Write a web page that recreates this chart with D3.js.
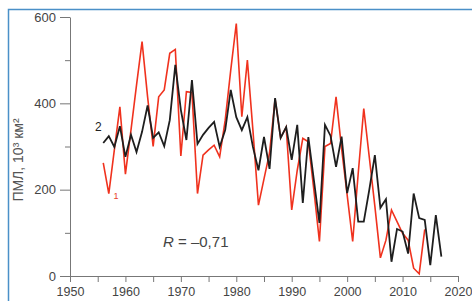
<!DOCTYPE html>
<html>
<head>
<meta charset="utf-8">
<script src="https://cdnjs.cloudflare.com/ajax/libs/d3/7.8.5/d3.min.js"></script>
<style>
  body { margin: 0; background: #fff; }
  .tick text { font-family: "Liberation Sans", Arial, sans-serif; }
</style>
</head>
<body>
<div class="chart"></div>
<script>
// data, 10^3 km^2
var years1 = d3.range(1956, 2015); // series 1 (red) 1956-2014
var values1 = [262, 191, 292, 392, 236, 338, 442, 543, 415, 300,
  415, 431, 516, 525, 278, 427, 425, 191, 280, 292,
  303, 276, 361, 477, 585, 369, 500, 338, 164, 225,
  285, 410, 320, 345, 153, 245, 319, 311, 199, 80,
  300, 307, 415, 295, 188, 80, 238, 388, 275, 162,
  42, 83, 153, 126, 99, 83, 18, 5, 108];

var years2 = d3.range(1956, 2018); // series 2 (black) 1956-2017
var values2 = [308, 324, 299, 347, 276, 327, 287, 334, 395, 320,
  333, 301, 361, 489, 385, 315, 454, 306, 327, 343,
  357, 299, 338, 431, 368, 338, 368, 299, 245, 322,
  248, 412, 320, 345, 269, 350, 169, 322, 222, 123,
  350, 325, 253, 323, 192, 250, 126, 126, 200, 280,
  158, 178, 33, 109, 103, 52, 191, 134, 130, 25,
  141, 45];

var xTicks = [1950, 1960, 1970, 1980, 1990, 2000, 2010, 2020];
var yTicks = [0, 200, 400, 600];

// svg container
var svgWidth = 472;
var svgHeight = 301;

var svg = d3.select(".chart")
  .append("svg")
  .attr("width", svgWidth)
  .attr("height", svgHeight)
  .style("display", "block");

// blue frame (left and top edges only visible)
svg.append("path")
  .attr("d", "M8.5,301 V9.5 H472")
  .attr("fill", "none")
  .attr("stroke", "#4a90c8")
  .attr("stroke-width", 1.5);

// scales
// ==============================
var xScale = d3.scaleLinear().domain([1950, 2020]).range([70, 458]);
var yScale = d3.scaleLinear().domain([0, 600]).range([276, 17]);

var axisColor = "#777";

// y axis: major + minor ticks
var leftAxis = d3.axisLeft(yScale)
  .tickValues(yTicks)
  .tickSize(10)
  .tickPadding(4)
  .tickSizeOuter(0);

var yAxisG = svg.append("g")
  .attr("transform", "translate(" + xScale(1950) + ",0)")
  .call(leftAxis);

svg.append("g")
  .attr("transform", "translate(" + xScale(1950) + ",0)")
  .call(d3.axisLeft(yScale).tickValues([100, 300, 500]).tickSize(5).tickFormat("").tickSizeOuter(0))
  .call(g => g.select(".domain").remove())
  .selectAll("line").attr("stroke", axisColor);

// x axis: ticks every 5 years
var bottomAxis = d3.axisBottom(xScale)
  .tickValues(d3.range(1950, 2021, 5))
  .tickSize(6)
  .tickPadding(5)
  .tickSizeOuter(0)
  .tickFormat(d => xTicks.indexOf(d) >= 0 ? d : "");

var xAxisG = svg.append("g")
  .attr("transform", "translate(0," + yScale(0) + ")")
  .call(bottomAxis);

[yAxisG, xAxisG].forEach(function (g) {
  g.select(".domain").attr("stroke", axisColor).attr("stroke-width", 1);
  g.selectAll(".tick line").attr("stroke", axisColor);
  g.selectAll(".tick text")
    .attr("fill", "#444")
    .style("font-size", "13px");
});
xAxisG.selectAll(".tick text").style("font-size", "12.5px");

// lines
// ==============================
var line = d3.line()
  .x(d => xScale(d[0]))
  .y(d => yScale(d[1]));

svg.append("path")
  .datum(d3.zip(years1, values1))
  .attr("d", line)
  .attr("fill", "none")
  .attr("stroke", "#f0321e")
  .attr("stroke-width", 1.6)
  .attr("stroke-linejoin", "miter");

svg.append("path")
  .datum(d3.zip(years2, values2))
  .attr("d", line)
  .attr("fill", "none")
  .attr("stroke", "#1e1e1e")
  .attr("stroke-width", 1.8)
  .attr("stroke-linejoin", "miter");

// series labels
svg.append("text")
  .attr("x", xScale(1955.1))
  .attr("y", yScale(337))
  .attr("text-anchor", "middle")
  .attr("font-family", "Liberation Sans, Arial, sans-serif")
  .attr("font-size", "12px")
  .attr("fill", "#222")
  .text("2");

svg.append("text")
  .attr("x", xScale(1958.3))
  .attr("y", yScale(178))
  .attr("text-anchor", "middle")
  .attr("font-family", "Liberation Sans, Arial, sans-serif")
  .attr("font-size", "9px")
  .attr("fill", "#e8402a")
  .text("1");

// correlation
var rText = svg.append("text")
  .attr("x", 163)
  .attr("y", 247)
  .attr("font-family", "Liberation Sans, Arial, sans-serif")
  .attr("font-size", "15px")
  .attr("fill", "#444");
rText.append("tspan").attr("font-style", "italic").text("R");
rText.append("tspan").text(" = –0,71");

// y axis label
svg.append("text")
  .attr("transform", "translate(23," + 160 + ") rotate(-90)")
  .attr("text-anchor", "middle")
  .attr("font-family", "Liberation Sans, Arial, sans-serif")
  .attr("font-size", "14px")
  .attr("fill", "#555")
  .text("ПМЛ, 10³ км²");
</script>
</body>
</html>
